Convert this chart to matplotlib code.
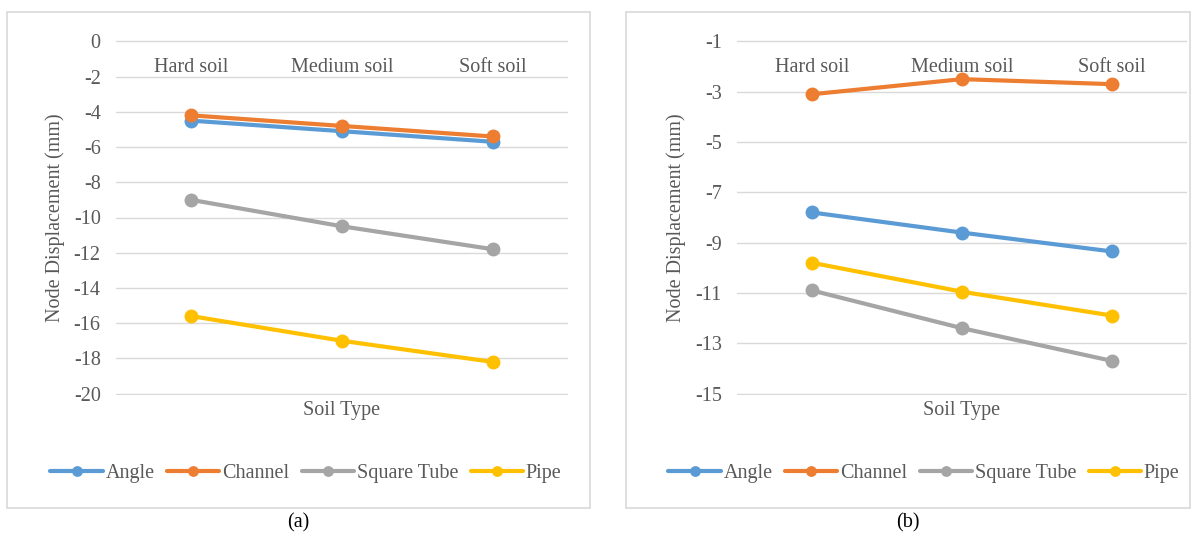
import matplotlib
matplotlib.use("Agg")
import matplotlib.pyplot as plt
from matplotlib.patches import Rectangle

plt.rcParams['font.family'] = ['Liberation Serif', 'DejaVu Serif']

# Data
soil_types = ["Hard soil", "Medium soil", "Soft soil"]
series_names = ["Angle", "Channel", "Square Tube", "Pipe"]

angle_a = [-4.5, -5.1, -5.7]
channel_a = [-4.2, -4.8, -5.4]
square_a = [-9.0, -10.5, -11.8]
pipe_a = [-15.6, -17.0, -18.2]

angle_b = [-7.8, -8.6, -9.35]
channel_b = [-3.1, -2.5, -2.7]
square_b = [-10.9, -12.4, -13.7]
pipe_b = [-9.8, -10.95, -11.9]

yticks_a = [0, -2, -4, -6, -8, -10, -12, -14, -16, -18, -20]
yticks_b = [-1, -3, -5, -7, -9, -11, -13, -15]

colors = ["#5B9BD5", "#ED7D31", "#A5A5A5", "#FFC000"]
text_color = "#595959"
grid_color = "#D9D9D9"
fs = 14.5

W, H = 1197, 535
fig = plt.figure(figsize=(W / 100, H / 100), dpi=100)


def fx(px):
    return px / W


def fy(py):
    return 1 - py / H


def panel(box, axrect, series, yticks, caption, legend_center):
    bx0, by0, bx1, by1 = box
    fig.patches.append(Rectangle((fx(bx0), fy(by1)), fx(bx1 - bx0), (by1 - by0) / H,
                                 transform=fig.transFigure, fill=False,
                                 edgecolor=grid_color, linewidth=1.2))
    ax0, ay0, ax1, ay1 = axrect
    ax = fig.add_axes([fx(ax0), fy(ay1), fx(ax1 - ax0), (ay1 - ay0) / H])
    x = range(len(soil_types))
    handles = []
    for vals, name, c in zip(series, series_names, colors):
        h, = ax.plot(x, vals, color=c, linewidth=3.0, marker='o', markersize=9,
                     solid_capstyle='round', label=name, zorder=3)
        handles.append(h)
    ax.set_xlim(-0.5, len(soil_types) - 0.5)
    span = max(yticks) - min(yticks)
    ax.set_ylim(min(yticks) - span * 0.004, max(yticks) + span * 0.004)
    ax.set_yticks(yticks)
    ax.set_yticklabels([str(t) for t in yticks])
    ax.yaxis.grid(True, color=grid_color, linewidth=1.0)
    ax.set_axisbelow(True)
    ax.set_xticks([])
    for s in ax.spines.values():
        s.set_visible(False)
    ax.tick_params(axis='y', length=0, pad=11, labelsize=fs, labelcolor=text_color)
    h_ax = ay1 - ay0
    w_ax = ax1 - ax0
    for i, name in enumerate(soil_types):
        ax.text(i, 1 - 27 / h_ax, name, transform=ax.get_xaxis_transform(),
                ha='center', va='center', fontsize=fs, color=text_color)
    ax.text(0.5, -15 / h_ax, "Soil Type", transform=ax.transAxes, ha='center',
            va='center', fontsize=fs, color=text_color)
    ax.set_ylabel("Node Displacement (mm)", fontsize=fs, color=text_color)
    ax.yaxis.set_label_coords(-61 / w_ax, 0.5)
    ax.yaxis.label.set_va('center')
    fig.legend(handles=handles, loc='center', ncol=4, frameon=False,
               bbox_to_anchor=(fx(legend_center), fy(473)),
               bbox_transform=fig.transFigure, fontsize=fs, markerscale=0.75,
               handlelength=2.6, handletextpad=0.15, columnspacing=0.6,
               labelcolor=text_color)
    fig.text(fx((bx0 + bx1) / 2), fy(523), caption, ha='center', va='center',
             fontsize=fs, color='black')
    return ax


panel((7, 12, 590, 508), (116, 40, 568, 395),
      [angle_a, channel_a, square_a, pipe_a], yticks_a, "(a)", 306)
panel((626, 12, 1190, 508), (737, 40, 1187, 395),
      [angle_b, channel_b, square_b, pipe_b], yticks_b, "(b)", 924)

fig.savefig("out.png", dpi=100)
